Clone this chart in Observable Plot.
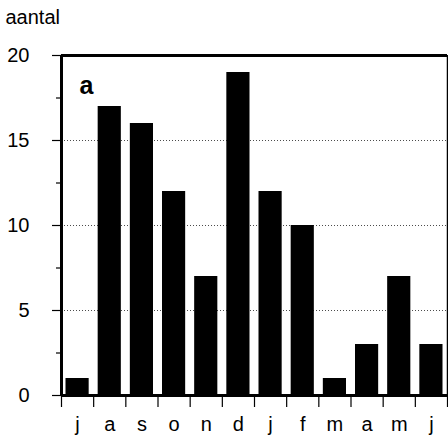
<!DOCTYPE html>
<html>
<head>
<meta charset="utf-8">
<script src="https://cdn.jsdelivr.net/npm/d3@7"></script>
<script src="https://cdn.jsdelivr.net/npm/@observablehq/plot@0.6"></script>
<style>
  html, body { margin: 0; padding: 0; background: #fff; }
  #chart svg { display: block; }
</style>
</head>
<body>
<div id="chart"></div>
<script>
const months = ["j", "a", "s", "o", "n", "d", "j", "f", "m", "a", "m", "j"];
const counts = [1, 17, 16, 12, 7, 19, 12, 10, 1, 3, 7, 3];
const yTicks = [0, 5, 10, 15, 20];
const yMinorTicks = [2.5, 7.5, 12.5, 17.5];
const gridValues = [5, 10, 15];
const yTitle = "aantal";
const panelLabel = "a";

const data = months.map((m, i) => ({i, month: m, count: counts[i]}));
const boundaries = d3.range(0, months.length + 1);
const centers = months.map((m, i) => i + 0.5);
const font = "'Liberation Sans', Arial, Helvetica, sans-serif";

const chart = Plot.plot({
  width: 448,
  height: 435,
  marginTop: 55,
  marginBottom: 40,
  marginLeft: 61,
  marginRight: 1,
  style: {fontFamily: font, fontSize: "20px", background: "#fff", color: "#000"},
  x: {type: "linear", domain: [0, months.length], axis: null, label: null},
  y: {domain: [0, 20], axis: null, label: null},
  marks: [
    Plot.ruleY(gridValues, {stroke: "#000", strokeWidth: 1, strokeDasharray: "1,2", strokeOpacity: 0.7}),
    Plot.rectY(data, {x1: "i", x2: d => d.i + 1, y1: 0, y2: "count", fill: "#000", insetLeft: 4.5, insetRight: 4.5}),
    Plot.axisY({ticks: yTicks, tickSize: 9, tickPadding: 23, fontSize: 20, strokeWidth: 1.2, label: null}),
    Plot.axisY({ticks: yMinorTicks, tickSize: 5, tickFormat: () => "", strokeWidth: 1.2, label: null}),
    Plot.axisX({ticks: boundaries, tickSize: 12, tickFormat: () => "", strokeWidth: 1.2, label: null}),
    Plot.axisX({ticks: centers, tickSize: 0, tickPadding: 21, fontSize: 20, tickFormat: d => months[Math.round(d - 0.5)], label: null}),
    Plot.ruleY([0], {stroke: "#000", strokeWidth: 3}),
    Plot.ruleY([20], {stroke: "#000", strokeWidth: 3}),
    Plot.ruleX([0], {stroke: "#000", strokeWidth: 3}),
    Plot.ruleX([months.length], {stroke: "#000", strokeWidth: 1.5}),
    Plot.text([panelLabel], {frameAnchor: "top-left", dx: 18, dy: 38, lineAnchor: "bottom", textAnchor: "start", fontSize: 25, fontWeight: "bold", fill: "#000"}),
    Plot.text([yTitle], {frameAnchor: "top-left", dx: -56, dy: -32, lineAnchor: "bottom", textAnchor: "start", fontSize: 20, fill: "#000"})
  ]
});
document.getElementById("chart").appendChild(chart);
</script>
</body>
</html>
